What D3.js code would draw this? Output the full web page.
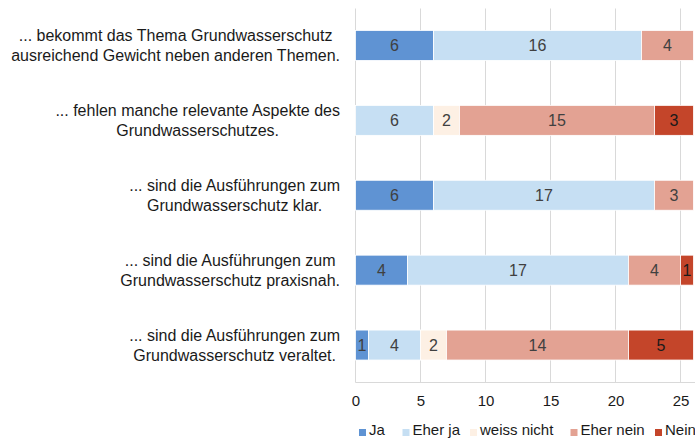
<!DOCTYPE html>
<html><head><meta charset="utf-8">
<script src="https://cdn.jsdelivr.net/npm/d3@7"></script>
<style>body{margin:0;background:#fff;} svg{display:block;font-family:"Liberation Sans",Arial,sans-serif;}</style>
</head><body>
<svg id="c" width="695" height="438"></svg>
<script>
const categories = [
  ["... bekommt das Thema Grundwasserschutz", "ausreichend Gewicht neben anderen Themen."],
  ["... fehlen manche relevante Aspekte des", "Grundwasserschutzes."],
  ["... sind die Ausführungen zum", "Grundwasserschutz klar."],
  ["... sind die Ausführungen zum", "Grundwasserschutz praxisnah."],
  ["... sind die Ausführungen zum", "Grundwasserschutz veraltet."]
];
const seriesNames = ["Ja", "Eher ja", "weiss nicht", "Eher nein", "Nein"];
const ja = [6, 0, 6, 4, 1];
const eherJa = [16, 6, 17, 17, 4];
const weissNicht = [0, 2, 0, 0, 2];
const eherNein = [4, 15, 3, 4, 14];
const nein = [0, 3, 0, 1, 5];
const tickValues = [0, 5, 10, 15, 20, 25];
const colors = ["#5f93d3", "#c6dff3", "#fdf0e4", "#e3a293", "#c4452a"];
const labelColors = ["#404040", "#404040", "#404040", "#404040", "#1a1a1a"];

const seriesValues = [ja, eherJa, weissNicht, eherNein, nein];
const svg = d3.select("#c");
const x = d3.scaleLinear().domain([0, 30]).range([355.5, 355.5 + 390]);
const y = d3.scaleBand().domain(d3.range(categories.length)).range([8, 382.5]).paddingInner(0.6).paddingOuter(0.3);

// gridlines
svg.append("g").selectAll("line").data(tickValues).join("line")
  .attr("x1", d => x(d)).attr("x2", d => x(d))
  .attr("y1", 8.5).attr("y2", 382.5)
  .attr("stroke", "#d9d9d9").attr("stroke-width", 1);
svg.append("line").attr("x1", x(0)).attr("x2", 695).attr("y1", 382.5).attr("y2", 382.5)
  .attr("stroke", "#d9d9d9").attr("stroke-width", 1);

// axis
const axis = svg.append("g").attr("transform", "translate(0,383)")
  .call(d3.axisBottom(x).tickValues(tickValues).tickSize(0).tickPadding(12));
axis.select(".domain").remove();
axis.selectAll("text").attr("font-size", 15).attr("fill", "#1a1a1a").attr("font-family", "Liberation Sans, Arial, sans-serif");

// stacked data
const rows = categories.map((c, i) => {
  let acc = 0;
  return seriesValues.map((s, k) => {
    const v = s[i]; const seg = {i, k, x0: acc, x1: acc + v, v}; acc += v; return seg;
  });
});
const segs = rows.flat().filter(d => d.v > 0);

svg.append("g").selectAll("rect").data(segs).join("rect")
  .attr("x", d => x(d.x0)).attr("width", d => x(d.x1) - x(d.x0))
  .attr("y", d => y(d.i)).attr("height", y.bandwidth())
  .attr("fill", d => colors[d.k])
  .attr("stroke", "#fff").attr("stroke-width", 0.8);

svg.append("g").selectAll("text").data(segs).join("text")
  .attr("x", d => (x(d.x0) + x(d.x1)) / 2)
  .attr("y", d => y(d.i) + y.bandwidth() / 2)
  .attr("dy", "0.36em").attr("text-anchor", "middle")
  .attr("font-size", 16).attr("fill", d => labelColors[d.k])
  .text(d => d.v);

// category labels
const lg = svg.append("g");
categories.forEach((lines, i) => {
  const t = lg.append("text").attr("font-size", 16).attr("fill", "#1a1a1a").attr("text-anchor", "middle");
  const cy = y(i) + y.bandwidth() / 2;
  const lh = 19.5;
  lines.forEach((ln, j) => {
    t.append("tspan").attr("y", cy + (j - (lines.length - 1) / 2) * lh).attr("dy", "0.36em").text(ln);
  });
  let maxW = 0;
  t.selectAll("tspan").each(function(){ maxW = Math.max(maxW, this.getComputedTextLength()); });
  t.selectAll("tspan").attr("x", 340 - maxW / 2);
});

// legend
const legendX = [359, 402.5, 470, 570.5, 655];
const leg = svg.append("g");
seriesNames.forEach((n, k) => {
  leg.append("rect").attr("x", legendX[k]).attr("y", 429).attr("width", 7).attr("height", 7).attr("fill", colors[k]);
  leg.append("text").attr("x", legendX[k] + 10).attr("y", 435)
    .attr("font-size", 15).attr("fill", "#1a1a1a").text(n);
});
</script>
</body></html>
